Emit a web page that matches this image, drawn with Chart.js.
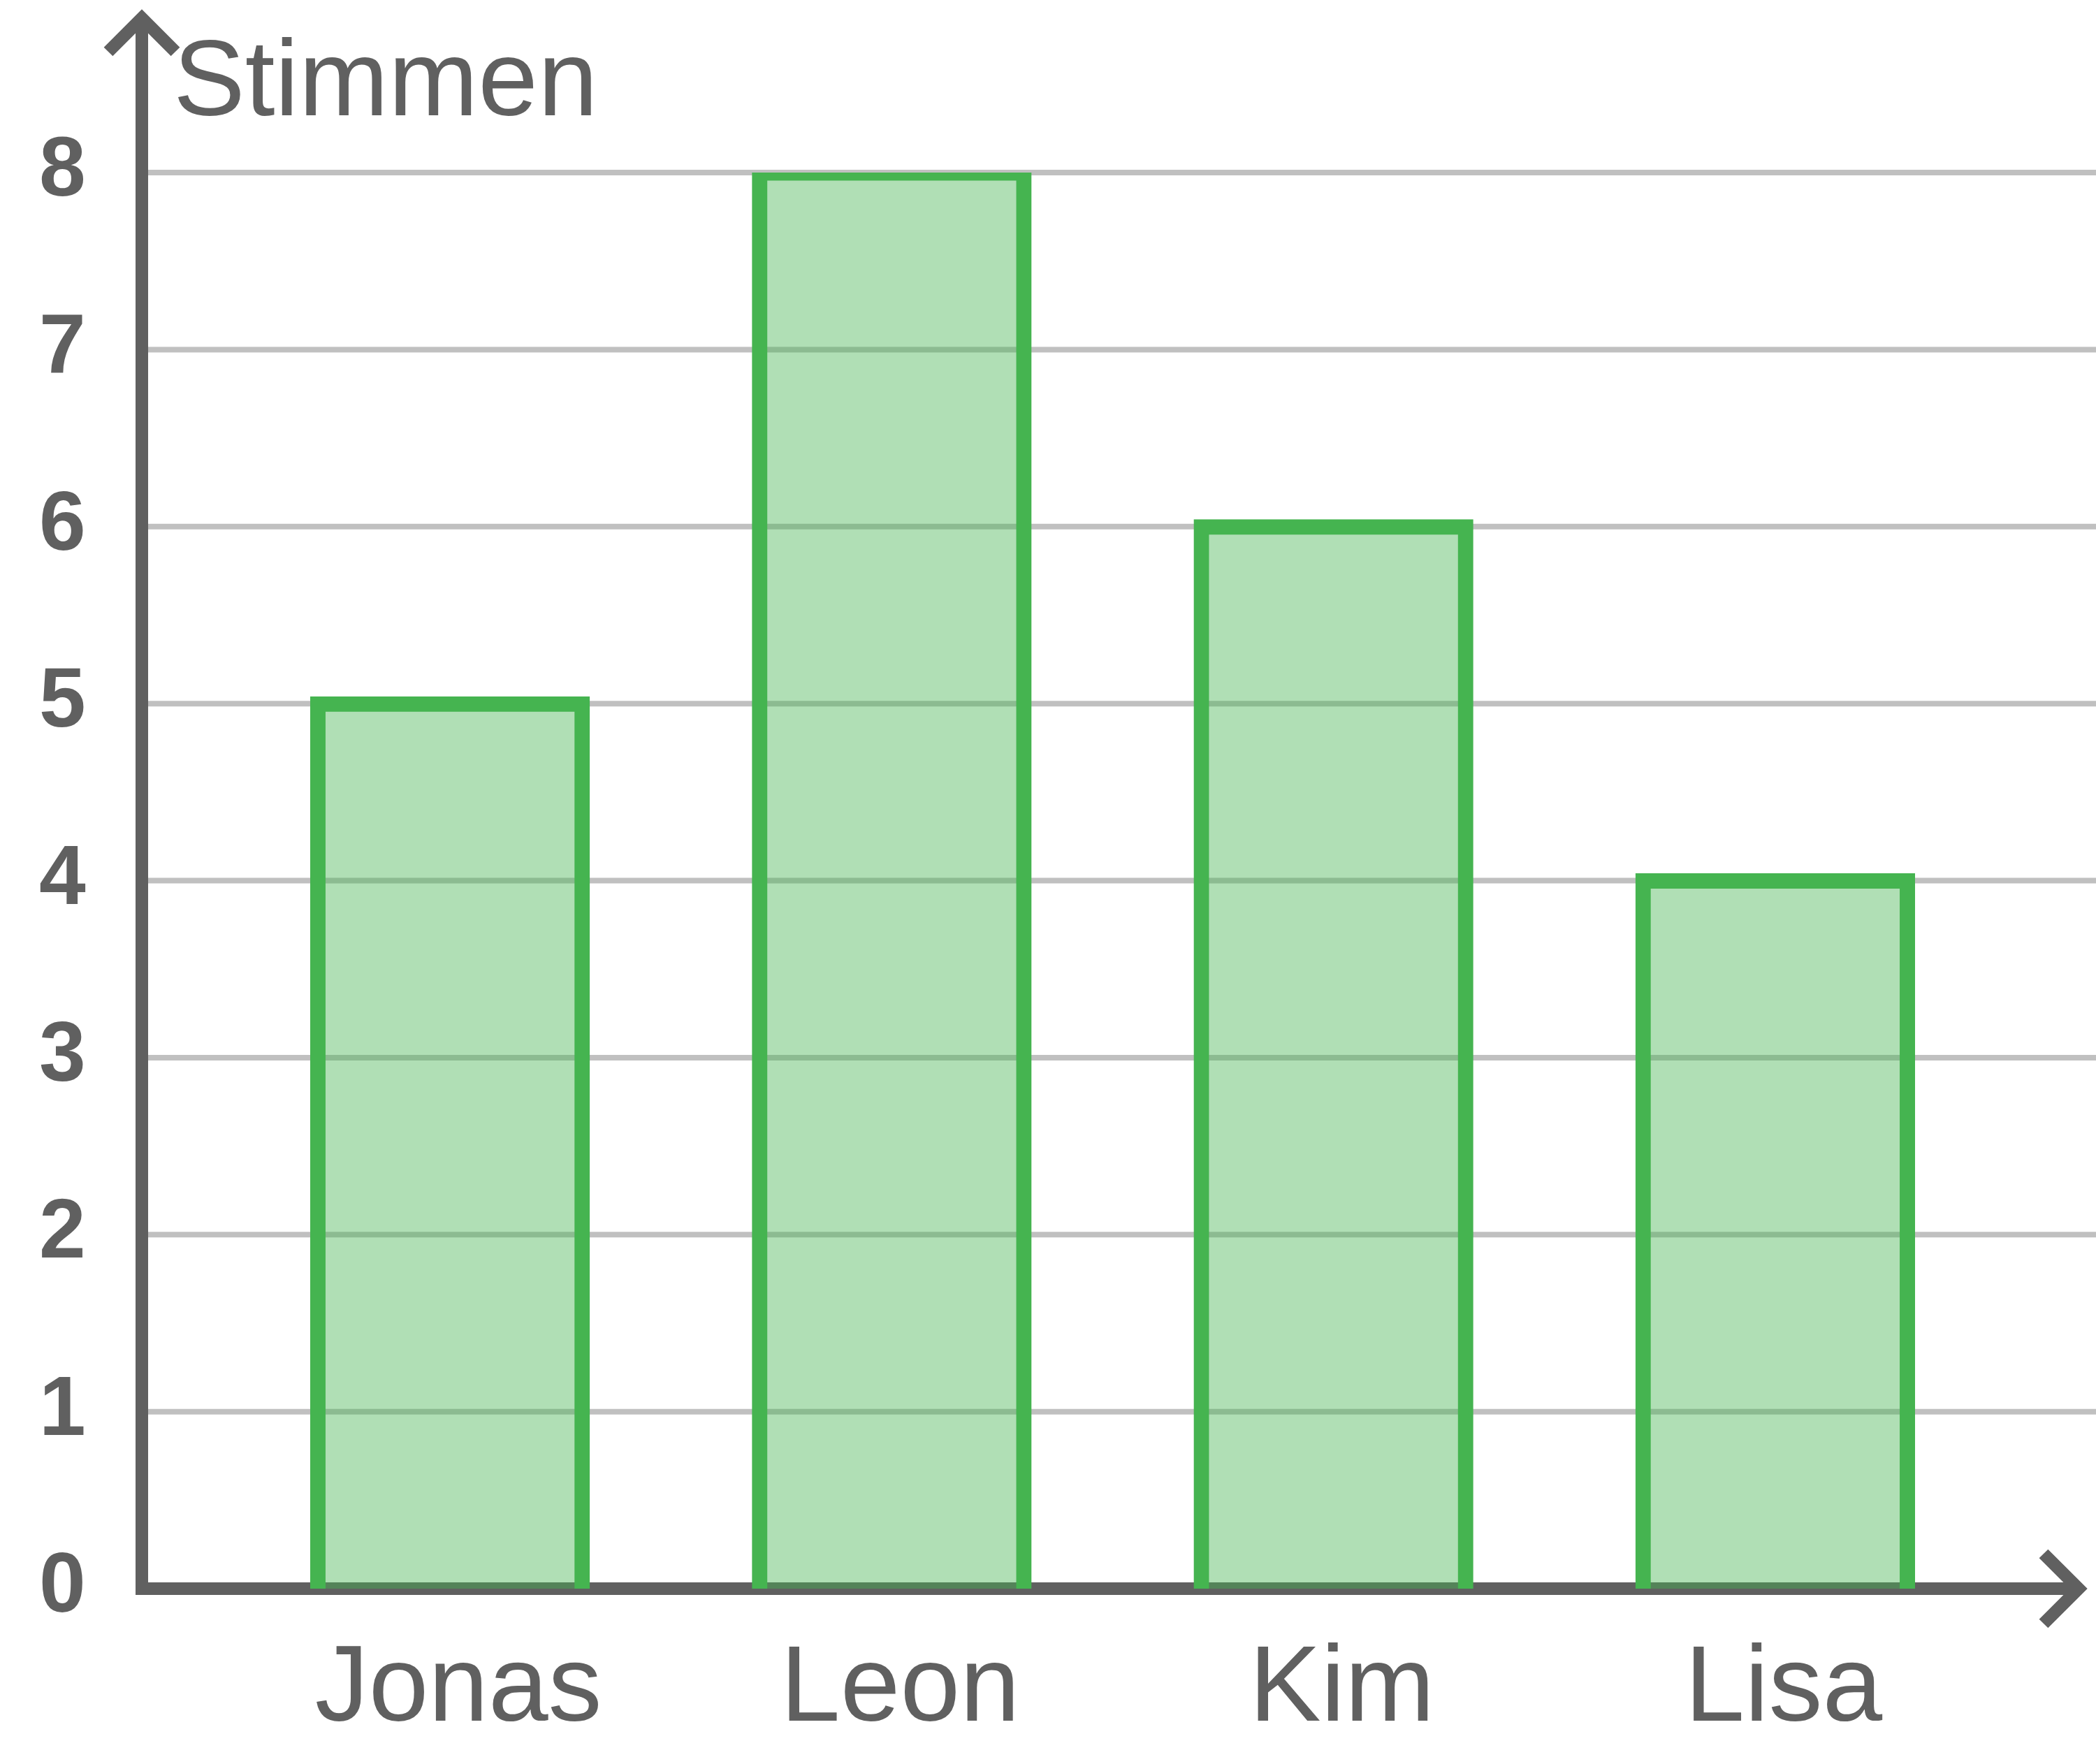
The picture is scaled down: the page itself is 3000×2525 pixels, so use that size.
<!DOCTYPE html>
<html>
<head>
<meta charset="utf-8">
<style>
  html, body { margin: 0; padding: 0; background: #ffffff; }
  #wrap { width: 3000px; height: 2525px; }
</style>
<script src="https://cdn.jsdelivr.net/npm/chart.js@4.4.1/dist/chart.umd.min.js"></script>
</head>
<body>
<div id="wrap"><canvas id="c" width="3000" height="2525"></canvas></div>
<script>
const categories = ['Jonas', 'Leon', 'Kim', 'Lisa'];
const votes = [5, 8, 6, 4];
const yTicks = [0, 1, 2, 3, 4, 5, 6, 7, 8];
const axisTitle = 'Stimmen';

const TEXT = '#606060';
const AXIS = '#606060';
const GRID = '#c0c0c0';
const FONT = '"Liberation Sans", Arial, Helvetica, sans-serif';

const decor = {
  id: 'decor',
  beforeDatasetsDraw(chart) {
    const ctx = chart.ctx;
    const y = chart.scales.y;
    const y0 = y.getPixelForValue(0);
    const axisX = 203;
    ctx.save();
    // grid lines
    ctx.strokeStyle = GRID;
    ctx.lineWidth = 8;
    yTicks.forEach(v => {
      if (v === 0) return;
      const py = y.getPixelForValue(v);
      ctx.beginPath();
      ctx.moveTo(axisX + 9, py);
      ctx.lineTo(3000, py);
      ctx.stroke();
    });
    // axes
    ctx.strokeStyle = AXIS;
    ctx.lineWidth = 18;
    ctx.lineCap = 'butt';
    ctx.lineJoin = 'miter';
    ctx.beginPath();
    ctx.moveTo(axisX, y0 + 9);
    ctx.lineTo(axisX, 26);
    ctx.stroke();
    ctx.beginPath();
    ctx.moveTo(axisX - 48, 74);
    ctx.lineTo(axisX, 26);
    ctx.lineTo(axisX + 48, 74);
    ctx.stroke();
    ctx.beginPath();
    ctx.moveTo(axisX - 9, y0);
    ctx.lineTo(2975, y0);
    ctx.stroke();
    ctx.beginPath();
    ctx.moveTo(2925, y0 - 50);
    ctx.lineTo(2975, y0);
    ctx.lineTo(2925, y0 + 50);
    ctx.stroke();
    // axis title
    ctx.fillStyle = TEXT;
    ctx.font = '154px ' + FONT;
    ctx.textAlign = 'left';
    ctx.textBaseline = 'alphabetic';
    ctx.fillText(axisTitle, 248, 165);
    ctx.restore();
  }
};

new Chart(document.getElementById('c'), {
  type: 'bar',
  data: {
    labels: categories,
    datasets: [{
      data: votes,
      backgroundColor: 'rgba(69,180,80,0.425)',
      borderColor: '#46b450',
      borderWidth: 1,
      inflateAmount: 10.5,
      borderSkipped: 'start',
      barPercentage: 0.6,
      categoryPercentage: 1.0
    }]
  },
  options: {
    responsive: false,
    animation: false,
    devicePixelRatio: 1,
    layout: { padding: { top: 247, bottom: 20, left: 56, right: 143 } },
    plugins: { legend: { display: false }, tooltip: { enabled: false }, title: { display: false } },
    scales: {
      x: {
        grid: { display: false, drawTicks: false },
        border: { display: false },
        afterFit(scale) { scale.height = 231; },
        ticks: { color: TEXT, font: { family: FONT, size: 154 }, padding: 54, labelOffset: 12, maxRotation: 0, autoSkip: false }
      },
      y: {
        min: 0, max: 8,
        afterBuildTicks(scale) { scale.ticks = yTicks.map(v => ({ value: v })); },
        afterFit(scale) { scale.width = 272; },
        grid: { display: false, drawTicks: false },
        border: { display: false },
        ticks: { color: TEXT, font: { family: FONT, size: 120, weight: 'bold' }, padding: 4, crossAlign: 'far', stepSize: 1 }
      }
    }
  },
  plugins: [decor]
});
</script>
</body>
</html>
